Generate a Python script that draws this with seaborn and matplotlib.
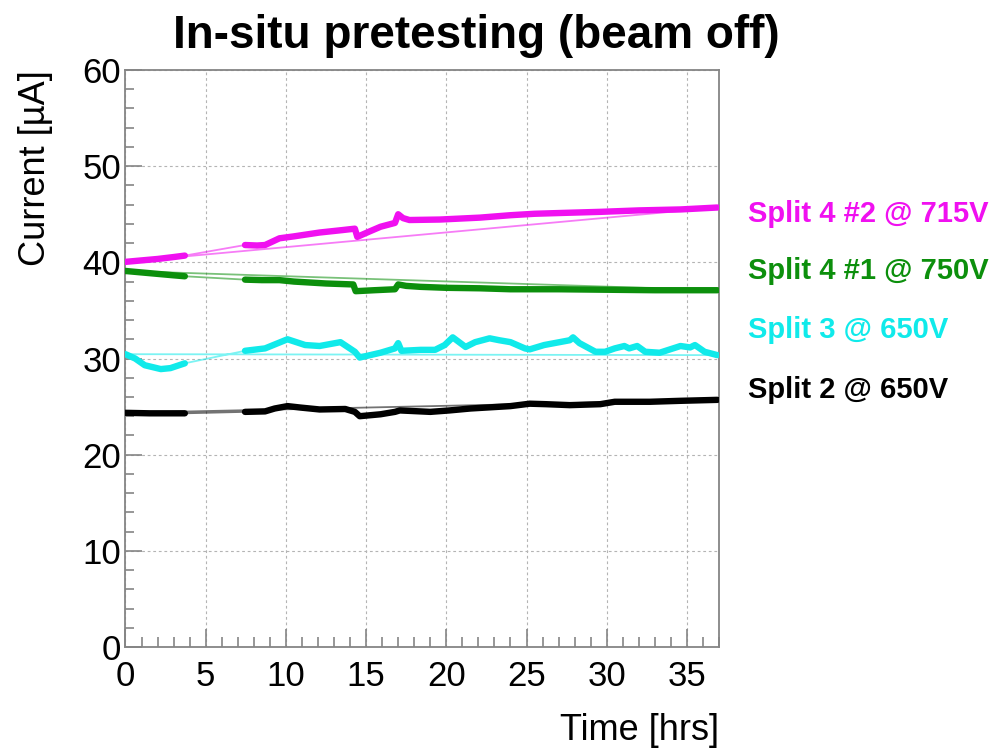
import numpy as np
import pandas as pd
import matplotlib
matplotlib.use("Agg")
import matplotlib.pyplot as plt
import seaborn as sns
from matplotlib.ticker import MultipleLocator

# ---- measured leakage currents (time in hours, current in uA) ----
series_names = ["Split 4 #2 @ 715V", "Split 4 #1 @ 750V", "Split 3 @ 650V", "Split 2 @ 650V"]
series_colors = ["#f010f0", "#0c8f0c", "#10eaea", "#000000"]

t_s4_2 = [0, 1, 2, 3, 3.7,
          7.45, 8.2, 8.7, 9.6, 10.5, 12.1, 13.5, 14.3, 14.45, 15.2, 15.9, 16.8, 17.0, 17.3,
          17.7, 19.6, 22.1, 24.0, 25.5, 27.5, 29.6, 32.0, 34.6, 36.9]
i_s4_2 = [40.05, 40.2, 40.35, 40.55, 40.7,
          41.8, 41.75, 41.8, 42.5, 42.7, 43.1, 43.35, 43.5, 42.65, 43.2, 43.7, 44.1, 45.0, 44.6,
          44.4, 44.45, 44.65, 44.9, 45.05, 45.15, 45.25, 45.4, 45.5, 45.7]

t_s4_1 = [0, 1, 2, 3, 3.7,
          7.45, 8.5, 9.6, 10.5, 12.5, 14.2, 14.35, 15.5, 16.8, 17.0, 17.5, 18.4, 20.0, 22.1,
          24.0, 27.0, 30.0, 33.0, 36.9]
i_s4_1 = [39.1, 38.95, 38.8, 38.65, 38.55,
          38.2, 38.15, 38.15, 38.0, 37.8, 37.7, 37.0, 37.1, 37.2, 37.7, 37.55, 37.45, 37.35, 37.3,
          37.2, 37.2, 37.15, 37.1, 37.1]

t_s3 = [0, 0.6, 1.2, 2.2, 2.8, 3.7,
        7.45, 8.7, 10.1, 11.2, 12.1, 13.4, 14.3, 14.6, 15.9, 16.8, 17.0, 17.2, 18.4, 19.3,
        19.9, 20.4, 21.2, 21.8, 22.7, 23.3, 24.0, 24.9, 25.2, 26.1, 27.7, 27.9, 28.3, 29.3,
        29.9, 30.5, 31.1, 31.4, 31.9, 32.4, 33.3, 34.6, 35.2, 35.5, 36.1, 36.9]
i_s3 = [30.45, 30.0, 29.3, 28.9, 29.0, 29.5,
        30.8, 31.05, 32.0, 31.4, 31.3, 31.7, 30.7, 30.1, 30.6, 31.05, 31.6, 30.8, 30.9, 30.9,
        31.4, 32.2, 31.2, 31.7, 32.1, 31.9, 31.7, 31.05, 30.95, 31.4, 31.9, 32.2, 31.6, 30.7,
        30.7, 31.05, 31.3, 31.05, 31.3, 30.7, 30.6, 31.3, 31.15, 31.4, 30.7, 30.35]

t_s2 = [0, 1.5, 3.7,
        7.45, 8.7, 9.3, 10.1, 10.9, 12.1, 13.7, 14.3, 14.6, 15.9, 16.8, 17.1, 19.0, 20.2,
        21.5, 24.0, 25.2, 26.2, 27.7, 29.6, 30.5, 32.7, 34.6, 36.9]
i_s2 = [24.35, 24.3, 24.3,
        24.45, 24.5, 24.8, 25.05, 24.9, 24.7, 24.75, 24.45, 24.0, 24.2, 24.45, 24.6, 24.45, 24.6,
        24.8, 25.05, 25.3, 25.25, 25.15, 25.25, 25.5, 25.5, 25.6, 25.7]

# data-taking was interrupted between these times
pause_start, pause_end = 3.7, 7.45

times = [t_s4_2, t_s4_1, t_s3, t_s2]
currents = [i_s4_2, i_s4_1, i_s3, i_s2]

rows, outline = [], []
for name, t, c in zip(series_names, times, currents):
    for ti, ci in zip(t, c):
        rows.append({"time": ti, "current": ci, "series": name,
                     "run": 0 if ti <= pause_start else 1})
    # closed outline of the graph (last point joined back to the first)
    for k, (ti, ci) in enumerate(list(zip(t, c)) + [(t[0], c[0])]):
        outline.append({"time": ti, "current": ci, "series": name, "order": k})
df = pd.DataFrame(rows)
df_outline = pd.DataFrame(outline)
palette = dict(zip(series_names, series_colors))

sns.set_theme(style="white")
plt.rcParams["font.family"] = ["Liberation Sans", "DejaVu Sans"]
plt.rcParams["text.color"] = "black"
plt.rcParams["xtick.labelcolor"] = "black"
plt.rcParams["ytick.labelcolor"] = "black"

W, H = 1004, 748
fig = plt.figure(figsize=(W / 100, H / 100), dpi=100)
ax = fig.add_axes([125.5 / W, 1 - 647 / H, (719 - 125.5) / W, (647 - 70) / H])

sns.lineplot(data=df_outline, x="time", y="current", hue="series", palette=palette,
             estimator=None, sort=False, units="series", lw=1.3, alpha=0.55,
             legend=False, ax=ax, zorder=2)
sns.lineplot(data=df, x="time", y="current", hue="series", palette=palette,
             units="run", estimator=None, sort=False, lw=4.6,
             legend=False, ax=ax, zorder=3, solid_capstyle="round")

ax.set_xlim(0, 37)
ax.set_ylim(0, 60)
ax.xaxis.set_major_locator(MultipleLocator(5))
ax.xaxis.set_minor_locator(MultipleLocator(1))
ax.yaxis.set_major_locator(MultipleLocator(10))
ax.yaxis.set_minor_locator(MultipleLocator(2))
ax.set_xlabel("")
ax.set_ylabel("")

frame_col = "#858585"
for sp in ax.spines.values():
    sp.set_color(frame_col)
    sp.set_linewidth(1.3)
    sp.set_visible(True)

ax.tick_params(axis="both", which="both", direction="in", color=frame_col,
               width=1.2, labelsize=25, labelcolor="black",
               bottom=True, left=True, top=False, right=False)
ax.tick_params(axis="x", which="major", length=13, pad=9)
ax.tick_params(axis="x", which="minor", length=7)
ax.tick_params(axis="y", which="major", length=12, pad=3)
ax.tick_params(axis="y", which="minor", length=6.5)

ax.grid(True, which="major", color="#b4b4b4", linestyle=(0, (2.5, 2.5)), linewidth=0.8)
ax.set_axisbelow(True)

# title and axis titles
fig.text(476 / W, 1 - 48 / H, "In-situ pretesting (beam off)", ha="center",
         va="baseline", fontsize=33, fontweight="bold", color="black")
fig.text(36 / W, 1 - 70 / H, "Current [µA]", rotation=90, ha="center", va="top",
         fontsize=26, color="black")
fig.text(719 / W, 1 - 740 / H, "Time [hrs]", ha="right", va="baseline", fontsize=26,
         color="black")

# series labels to the right of the frame
label_baselines = [222, 279, 338, 398]
for name, col, yb in zip(series_names, series_colors, label_baselines):
    fig.text(748 / W, 1 - yb / H, name, color=col, ha="left", va="baseline",
             fontsize=21, fontweight="bold")

fig.savefig("out.png", dpi=100)
